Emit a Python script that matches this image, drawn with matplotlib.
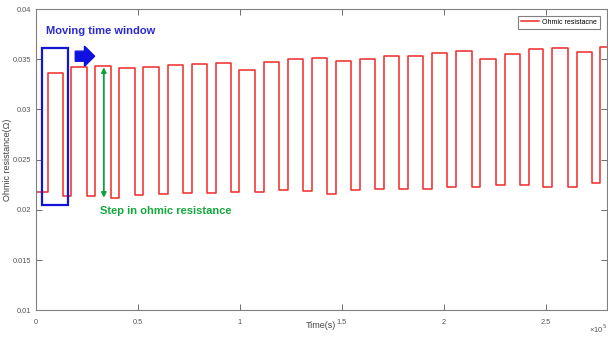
import numpy as np
import matplotlib
matplotlib.use("Agg")
import matplotlib.pyplot as plt
from matplotlib.ticker import FuncFormatter, MultipleLocator
from matplotlib.patches import Rectangle, FancyArrow

# tempos das bordas de subida / descida (s)
t_subida = [6100, 17400, 29100, 40900, 52600, 64900, 76600, 88400, 99700, 111900,
            123700, 135400, 147200, 158900, 170700, 182400, 194200, 205900, 217700,
            229900, 241700, 253400, 265200, 276900]
t_descida = [13500, 25200, 37000, 48700, 60500, 72200, 84000, 95700, 107500, 119200,
             131000, 142800, 154500, 166300, 178000, 189800, 201500, 213800, 225500,
             237300, 249000, 260800, 273000]

# patamar alto de cada pulso e patamar baixo (inicial + após cada pulso)
r_alto = [0.03359, 0.03419, 0.03432, 0.03412, 0.03425, 0.03442, 0.03449, 0.03459,
          0.03395, 0.03472, 0.03502, 0.03515, 0.03482, 0.03499, 0.03535, 0.03532,
          0.03561, 0.03581, 0.03505, 0.03554, 0.03601, 0.03608, 0.03568, 0.03621]
r_baixo = [0.02173, 0.02139, 0.02139, 0.02119, 0.02149, 0.02153, 0.02163, 0.02163,
           0.02173, 0.02179, 0.02196, 0.02189, 0.02153, 0.02199, 0.02209, 0.02209,
           0.02206, 0.02223, 0.02223, 0.02243, 0.02243, 0.02226, 0.02229, 0.02263]

T_FIM = 280000

# monta a onda quadrada
t = [0]
r = [r_baixo[0]]
for i in range(len(t_subida)):
    t.append(t_subida[i]); r.append(r_alto[i])
    if i < len(t_descida):
        t.append(t_descida[i]); r.append(r_baixo[i + 1])
t.append(T_FIM); r.append(r_alto[-1])

plt.rcParams['font.family'] = ['Liberation Sans', 'DejaVu Sans']

fig = plt.figure(figsize=(6.08, 3.4), dpi=100)
ax = fig.add_axes([0.0584, 0.0874, 0.9395, 0.8861])

cinza = '#808080'
ax.plot(t, r, drawstyle='steps-post', color='#f02828', linewidth=1.1,
        label='Ohmic resistacne')

ax.set_xlim(0, T_FIM)
ax.set_ylim(0.01, 0.04)
ax.xaxis.set_major_locator(MultipleLocator(50000))
ax.yaxis.set_major_locator(MultipleLocator(0.005))
ax.xaxis.set_major_formatter(FuncFormatter(lambda v, p: '%g' % (v / 1e5)))
ax.yaxis.set_major_formatter(FuncFormatter(lambda v, p: '%g' % round(v, 4)))
ax.tick_params(direction='in', top=True, right=True, length=4, width=0.6,
               colors='#555555', labelsize=5.3, pad=3)
ax.tick_params(axis='x', pad=6)
for s in ax.spines.values():
    s.set_color(cinza)
    s.set_linewidth(0.8)

ax.set_xlabel('Time(s)', fontsize=6.5, color='#444444')
ax.xaxis.set_label_coords(0.5, -0.037)
ax.set_ylabel('Ohmic resistance(Ω)', fontsize=6.5, color='#444444')
ax.yaxis.set_label_coords(-0.042, 0.5)
ax.text(1.0, -0.04, '×10$^5$', transform=ax.transAxes, ha='right', va='top',
        fontsize=5.5, color='#555555')

leg = ax.legend(loc='upper right', prop={'size': 5}, fancybox=False, edgecolor=cinza,
                handlelength=2.6, borderpad=0.4, framealpha=1, borderaxespad=1.0,
                handletextpad=0.5)
leg.get_frame().set_linewidth(0.8)

# janela móvel
ax.add_patch(Rectangle((3200, 0.02049), 12900, 0.03614 - 0.02049, fill=False,
                       edgecolor='#1414d8', linewidth=1.6, zorder=5))
ax.add_patch(FancyArrow(19500, 0.0353, 4500, 0, width=0.001, head_width=0.002,
                        head_length=5000, length_includes_head=False,
                        color='#1010e0', zorder=5))
ax.text(4900, 0.0378, 'Moving time window', fontsize=8, fontweight='bold',
        color='#2a2ad0', va='center', ha='left')

# degrau na resistência
ax.annotate('', xy=(33500, 0.0342), xytext=(33500, 0.0212),
            arrowprops=dict(arrowstyle='<|-|>', color='#10a040', lw=1.3,
                            mutation_scale=7, shrinkA=0, shrinkB=0))
ax.text(31800, 0.0199, 'Step in ohmic resistance', fontsize=8, fontweight='bold',
        color='#14a83c', va='center', ha='left')

plt.savefig('out.png', dpi=100)
